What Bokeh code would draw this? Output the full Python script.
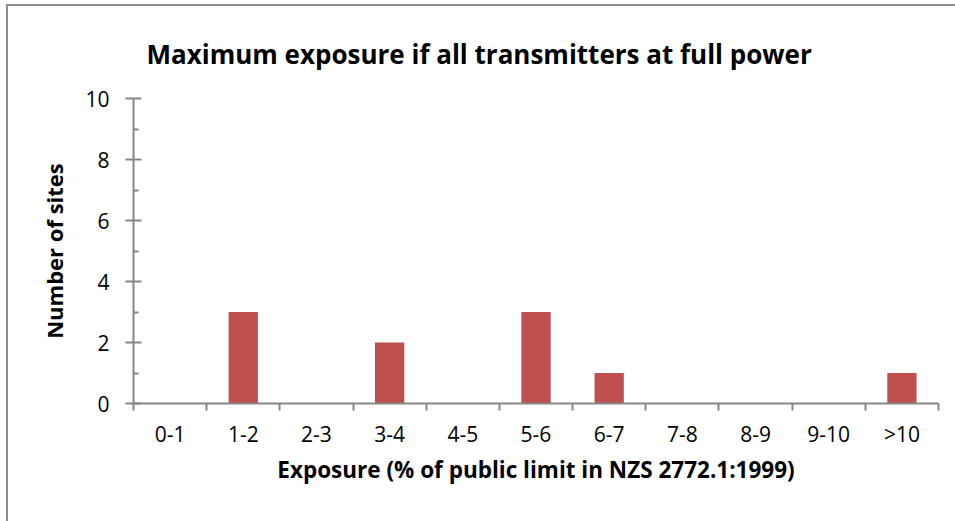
from bokeh.plotting import figure
from bokeh.models import FixedTicker, Range1d
from bokeh.embed import file_html
from bokeh.resources import INLINE

categories = ["0-1", "1-2", "2-3", "3-4", "4-5", "5-6", "6-7", "7-8", "8-9", "9-10", ">10"]
sites = [0, 3, 0, 2, 0, 3, 1, 0, 0, 0, 1]
y_major = [0, 2, 4, 6, 8, 10]
y_minor = [1, 3, 5, 7, 9]

FONT = "Open Sans"
AXIS = "#868686"

p = figure(width=949, height=517, output_backend="svg", toolbar_location=None,
           x_range=Range1d(0, len(categories)), y_range=Range1d(0, 10),
           min_border_left=125, min_border_right=19, min_border_top=90, min_border_bottom=120)
p.styles = {"margin-left": "6px", "margin-top": "4px",
            "border-left": "2px solid #8c8c8c", "border-top": "2px solid #8c8c8c"}

centers = [i + 0.5 for i in range(len(categories))]
p.vbar(x=centers, top=sites, width=0.4, bottom=0, fill_color="#C0504D", line_color=None)

p.grid.visible = False
p.outline_line_color = None

xa = p.xaxis[0]
xa.ticker = FixedTicker(ticks=centers, minor_ticks=list(range(len(categories) + 1)))
xa.major_label_overrides = {c: lab for c, lab in zip(centers, categories)}
xa.major_tick_line_color = None
xa.minor_tick_line_color = AXIS
xa.minor_tick_out = 7
xa.minor_tick_in = 0
xa.axis_line_color = AXIS
xa.axis_line_width = 2
xa.minor_tick_line_width = 2
xa.major_label_standoff = 9
xa.major_label_text_font = FONT
xa.major_label_text_font_size = "21px"
xa.major_label_text_color = "black"
xa.axis_label = "Exposure (% of public limit in NZS 2772.1:1999)"
xa.axis_label_text_font = FONT
xa.axis_label_text_font_style = "bold"
xa.axis_label_text_font_size = "22.5px"
xa.axis_label_text_color = "black"
xa.axis_label_standoff = 3

ya = p.yaxis[0]
ya.ticker = FixedTicker(ticks=y_major, minor_ticks=y_minor)
ya.axis_line_color = AXIS
ya.axis_line_width = 2
ya.major_tick_line_color = AXIS
ya.major_tick_line_width = 2
ya.major_tick_in = 8
ya.major_tick_out = 8
ya.minor_tick_line_color = AXIS
ya.minor_tick_line_width = 2
ya.minor_tick_in = 5
ya.minor_tick_out = 0
ya.major_label_standoff = 16
ya.major_label_text_font = FONT
ya.major_label_text_font_size = "21px"
ya.major_label_text_color = "black"
ya.axis_label = "Number of sites"
ya.axis_label_text_font = FONT
ya.axis_label_text_font_style = "bold"
ya.axis_label_text_font_size = "22px"
ya.axis_label_text_color = "black"
ya.axis_label_standoff = 13

p.title.text = "Maximum exposure if all transmitters at full power"
p.title.align = "left"
p.title.offset = 13
p.title.text_font = FONT
p.title.text_font_style = "bold"
p.title.text_font_size = "26px"
p.title.text_color = "black"
p.title.standoff = 54

open("out.html", "w").write(file_html(p, INLINE))
